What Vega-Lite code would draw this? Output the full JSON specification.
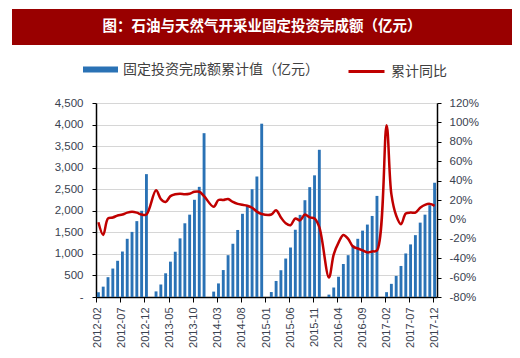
{
  "$schema": "https://vega.github.io/schema/vega-lite/v6.json",
  "padding": {"left": 12, "top": 9, "right": 8, "bottom": 0},
  "background": "white",
  "spacing": 52,
  "config": {"view": {"stroke": null}, "font": "Liberation Sans"},
  "datasets": {
    "d": [
      {"m": "2012-02", "v": 110, "y": -3},
      {"m": "2012-03", "v": 240, "y": -16},
      {"m": "2012-04", "v": 460, "y": 1},
      {"m": "2012-05", "v": 660, "y": 2},
      {"m": "2012-06", "v": 840, "y": 4},
      {"m": "2012-07", "v": 1055, "y": 5},
      {"m": "2012-08", "v": 1350, "y": 7},
      {"m": "2012-09", "v": 1510, "y": 8},
      {"m": "2012-10", "v": 1760, "y": 7},
      {"m": "2012-11", "v": 2000, "y": 5},
      {"m": "2012-12", "v": 2850, "y": 5},
      {"m": "2013-01", "v": null, "y": null},
      {"m": "2013-02", "v": 130, "y": 30},
      {"m": "2013-03", "v": 290, "y": 21},
      {"m": "2013-04", "v": 550, "y": 18},
      {"m": "2013-05", "v": 820, "y": 24},
      {"m": "2013-06", "v": 1050, "y": 26},
      {"m": "2013-07", "v": 1360, "y": 26.5},
      {"m": "2013-08", "v": 1710, "y": 26},
      {"m": "2013-09", "v": 1910, "y": 26.5},
      {"m": "2013-10", "v": 2255, "y": 28.5},
      {"m": "2013-11", "v": 2555, "y": 28.5},
      {"m": "2013-12", "v": 3800, "y": 24},
      {"m": "2014-01", "v": null, "y": null},
      {"m": "2014-02", "v": 125, "y": 13},
      {"m": "2014-03", "v": 315, "y": 20},
      {"m": "2014-04", "v": 625, "y": 20},
      {"m": "2014-05", "v": 970, "y": 21},
      {"m": "2014-06", "v": 1235, "y": 18},
      {"m": "2014-07", "v": 1555, "y": 16},
      {"m": "2014-08", "v": 1930, "y": 15},
      {"m": "2014-09", "v": 2125, "y": 14},
      {"m": "2014-10", "v": 2500, "y": 12},
      {"m": "2014-11", "v": 2795, "y": 8},
      {"m": "2014-12", "v": 4020, "y": 5.5},
      {"m": "2015-01", "v": null, "y": null},
      {"m": "2015-02", "v": 115, "y": 5},
      {"m": "2015-03", "v": 372, "y": 9.5},
      {"m": "2015-04", "v": 621, "y": 2},
      {"m": "2015-05", "v": 892, "y": -4},
      {"m": "2015-06", "v": 1148, "y": -6},
      {"m": "2015-07", "v": 1560, "y": 1},
      {"m": "2015-08", "v": 1905, "y": -1},
      {"m": "2015-09", "v": 2245, "y": 5},
      {"m": "2015-10", "v": 2548, "y": 2},
      {"m": "2015-11", "v": 2822, "y": 1},
      {"m": "2015-12", "v": 3415, "y": -8},
      {"m": "2016-01", "v": null, "y": null},
      {"m": "2016-02", "v": 55, "y": -60},
      {"m": "2016-03", "v": 220, "y": -36},
      {"m": "2016-04", "v": 470, "y": -24},
      {"m": "2016-05", "v": 765, "y": -16},
      {"m": "2016-06", "v": 970, "y": -20},
      {"m": "2016-07", "v": 1200, "y": -28},
      {"m": "2016-08", "v": 1350, "y": -30},
      {"m": "2016-09", "v": 1540, "y": -32},
      {"m": "2016-10", "v": 1680, "y": -34},
      {"m": "2016-11", "v": 1880, "y": -33},
      {"m": "2016-12", "v": 2345, "y": -32},
      {"m": "2017-01", "v": null, "y": null},
      {"m": "2017-02", "v": 112, "y": 97},
      {"m": "2017-03", "v": 305, "y": 26},
      {"m": "2017-04", "v": 490, "y": 4},
      {"m": "2017-05", "v": 720, "y": -5},
      {"m": "2017-06", "v": 1010, "y": 6},
      {"m": "2017-07", "v": 1220, "y": 7},
      {"m": "2017-08", "v": 1435, "y": 7},
      {"m": "2017-09", "v": 1725, "y": 12},
      {"m": "2017-10", "v": 1910, "y": 15},
      {"m": "2017-11", "v": 2130, "y": 16},
      {"m": "2017-12", "v": 2650, "y": 14}
    ]
  },
  "vconcat": [
    {
      "width": 500,
      "height": 36,
      "view": {"fill": "#990000", "stroke": null},
      "data": {"values": [{"t": "图：石油与天然气开采业固定投资完成额（亿元）"}]},
      "mark": {"type": "text", "color": "white", "fontSize": 14.5, "fontWeight": "bold", "font": "Noto Sans CJK SC"},
      "encoding": {"text": {"field": "t"}}
    },
    {
      "spacing": 0,
      "hconcat": [
        {
          "width": 1,
          "height": 1,
          "data": {"values": [{"s": 1}]},
          "mark": {"type": "point", "opacity": 0, "size": 0},
          "encoding": {}
        },
        {
          "width": 341,
          "height": 194,
          "data": {"name": "d"},
          "layer": [
            {
              "mark": {"type": "bar"},
              "encoding": {
                "x": {
                  "field": "m",
                  "type": "ordinal",
                  "scale": {
                    "domain": ["2012-02","2012-03","2012-04","2012-05","2012-06","2012-07","2012-08","2012-09","2012-10","2012-11","2012-12",
                      "2013-01","2013-02","2013-03","2013-04","2013-05","2013-06","2013-07","2013-08","2013-09","2013-10","2013-11","2013-12",
                      "2014-01","2014-02","2014-03","2014-04","2014-05","2014-06","2014-07","2014-08","2014-09","2014-10","2014-11","2014-12",
                      "2015-01","2015-02","2015-03","2015-04","2015-05","2015-06","2015-07","2015-08","2015-09","2015-10","2015-11","2015-12",
                      "2016-01","2016-02","2016-03","2016-04","2016-05","2016-06","2016-07","2016-08","2016-09","2016-10","2016-11","2016-12",
                      "2017-01","2017-02","2017-03","2017-04","2017-05","2017-06","2017-07","2017-08","2017-09","2017-10","2017-11","2017-12"],
                    "paddingInner": 0.4,
                    "paddingOuter": 0.2
                  },
                  "axis": {
                    "title": null,
                    "values": ["2012-02","2012-07","2012-12","2013-05","2013-10","2014-03","2014-08","2015-01","2015-06","2015-11","2016-04","2016-09","2017-02","2017-07","2017-12"],
                    "labelAngle": -90,
                    "labelFontSize": 11,
                    "labelColor": "#3a4250",
                    "tickColor": "black",
                    "tickSize": 5,
                    "domainColor": "black",
                    "domainWidth": 1.5,
                    "labelPadding": 5,
                    "bandPosition": 0,
                    "grid": false
                  }
                },
                "y": {
                  "field": "v",
                  "type": "quantitative",
                  "scale": {"domain": [0, 4500]},
                  "axis": {
                    "title": null,
                    "orient": "left",
                    "values": [0, 500, 1000, 1500, 2000, 2500, 3000, 3500, 4000, 4500],
                    "labelExpr": "datum.value == 0 ? '-' : format(datum.value, ',')",
                    "grid": true,
                    "gridColor": "#d6d6d6",
                    "gridWidth": 1,
                    "domainColor": "black",
                    "domainWidth": 1.5,
                    "tickColor": "black",
                    "tickSize": 4,
                    "labelPadding": 9,
                    "labelFontSize": 11.5,
                    "labelColor": "#3a4250",
                    "minExtent": 83
                  }
                },
                "fill": {
                  "datum": "固定投资完成额累计值（亿元）",
                  "scale": {"range": ["#2a72b5"]},
                  "legend": {
                    "title": null,
                    "orient": "none",
                    "legendX": 71,
                    "legendY": 43,
                    "padding": 0,
                    "symbolType": "M-1,-0.17H1V0.17H-1Z",
                    "symbolSize": 1225,
                    "symbolStrokeWidth": 0,
                    "labelFontSize": 14,
                    "labelFont": "Noto Sans CJK SC",
                    "labelColor": "#404040",
                    "labelOffset": 5,
                    "labelLimit": 400
                  }
                }
              }
            },
            {
              "transform": [{"filter": "datum.y != null"}],
              "mark": {"type": "line", "strokeWidth": 2.5, "interpolate": "catmull-rom"},
              "encoding": {
                "x": {"field": "m", "type": "ordinal"},
                "y": {
                  "field": "y",
                  "type": "quantitative",
                  "scale": {"domain": [-80, 120]},
                  "axis": {
                    "title": null,
                    "orient": "right",
                    "values": [-80, -60, -40, -20, 0, 20, 40, 60, 80, 100, 120],
                    "labelExpr": "datum.value + '%'",
                    "grid": false,
                    "domainColor": "black",
                    "domainWidth": 1.5,
                    "tickColor": "black",
                    "tickSize": 4,
                    "labelPadding": 8,
                    "labelFontSize": 11.5,
                    "labelColor": "#3a4250"
                  }
                },
                "stroke": {
                  "datum": "累计同比",
                  "scale": {"range": ["#c00000"]},
                  "legend": {
                    "title": null,
                    "orient": "none",
                    "legendX": 335,
                    "legendY": 43,
                    "padding": 0,
                    "symbolType": "stroke",
                    "symbolSize": 1296,
                    "symbolStrokeWidth": 3,
                    "labelFontSize": 14,
                    "labelFont": "Noto Sans CJK SC",
                    "labelColor": "#404040",
                    "labelOffset": 5,
                    "labelLimit": 400
                  }
                }
              }
            }
          ],
          "resolve": {"scale": {"y": "independent"}}
        }
      ]
    }
  ]
}
